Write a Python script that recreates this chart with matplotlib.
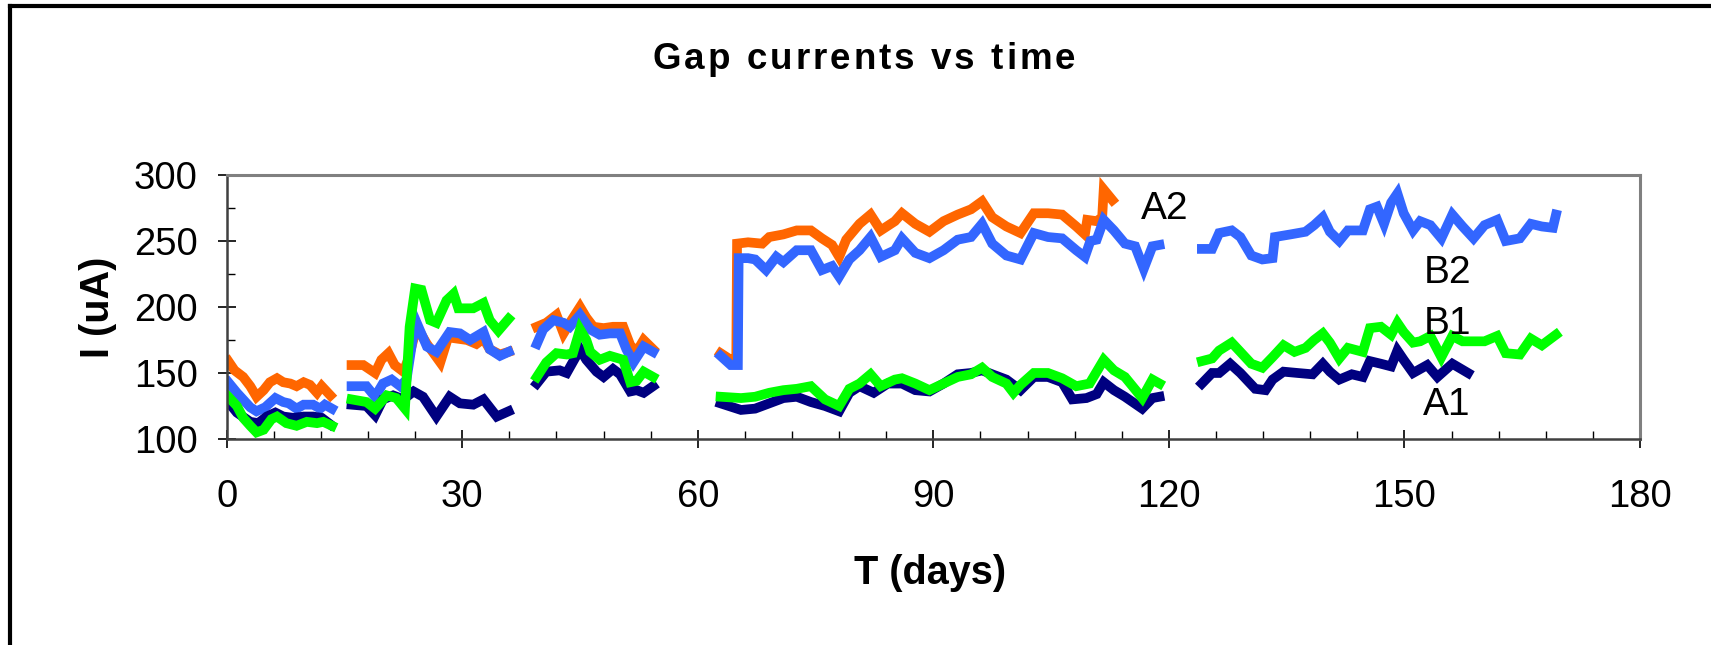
import numpy as np
import matplotlib
matplotlib.use("Agg")
import matplotlib.pyplot as plt
from matplotlib.lines import Line2D
from matplotlib.ticker import MultipleLocator
from matplotlib.font_manager import FontProperties

plt.rcParams['font.family'] = ['Liberation Sans', 'DejaVu Sans']

nan = np.nan

# A2 (orange)
a2_days = [0.2, 1.0, 2.1, 3.0, 3.8, 4.7, 5.5, 6.4, 7.2, 8.1, 8.9, 9.8, 10.6, 11.5, 12.1, 13.2, nan,
           15.9, 17.4, 18.9, 19.7, 20.6, 21.4, 22.5, 23.1, 24.2, 25.5, 27.2, 28.2, 30.6, 31.8, 32.7, 33.5, 34.8, 35.9, nan,
           39.5, 40.7, 42.0, 42.9, 43.7, 45.0, 45.8, 46.7, 48.0, 49.2, 50.5, 51.4, 52.2, 53.1, 54.3, nan,
           62.9, 64.2, 64.9, 65.0, 66.4, 68.2, 69.1, 70.9, 72.6, 74.4, 75.8, 77.1, 78.0, 78.9, 80.6, 82.0, 83.3,
           85.1, 86.0, 87.7, 89.5, 91.3, 93.1, 94.8, 96.2, 97.5, 99.3, 101.1, 102.8, 104.6, 106.4, 108.2, 109.3,
           109.6, 110.8, 111.5, 111.7, 112.8]
a2_vals = [159, 152, 147, 140, 132, 137, 143, 146, 143, 142, 140, 143, 141, 135, 140, 133, nan,
           156, 156, 150, 160, 165, 156, 151, 160, 185, 172, 158, 177, 175, 172, 176, 168, 164, 166, nan,
           185, 188, 194, 180, 188, 200, 192, 185, 184, 185, 185, 171, 166, 175, 168, nan,
           165, 160, 160, 248, 249, 248, 253, 255, 258, 258, 252, 247, 238, 251, 263, 270, 258,
           265, 271, 263, 257, 265, 270, 274, 280, 268, 261, 256, 271, 271, 270, 261, 255,
           266, 265, 268, 289, 281]

# B2 (blue)
b2_days = [0.2, 1.3, 3.0, 3.8, 4.9, 6.2, 7.2, 7.9, 8.9, 9.8, 11.0, 11.9, 12.5, 13.4, nan,
           15.9, 17.8, 18.9, 19.9, 21.0, 22.1, 22.9, 23.8, 24.2, 25.5, 26.7, 28.4, 29.7, 31.0, 32.7, 33.5, 34.8, 35.9, nan,
           39.5, 40.3, 41.6, 42.9, 43.7, 45.0, 46.3, 47.5, 48.8, 50.1, 50.9, 51.8, 53.1, 54.3, nan,
           62.9, 64.2, 65.1, 65.2, 66.4, 67.3, 68.7, 70.0, 70.9, 72.6, 74.4, 75.8, 77.1, 78.0, 79.3, 80.6, 82.0,
           83.3, 85.1, 86.0, 87.7, 89.5, 91.3, 93.1, 94.8, 96.2, 97.5, 99.3, 101.1, 102.8, 104.6, 106.4, 108.2,
           109.3, 110.0, 110.8, 111.7, 113.0, 114.4, 115.7, 116.8, 117.9, 118.8, nan,
           124.2, 125.5, 126.4, 128.0, 129.1, 130.5, 131.9, 133.2, 133.5, 135.5, 137.4, 138.5, 139.6, 140.5,
           141.7, 142.8, 144.7, 145.6, 146.5, 147.4, 148.3, 149.1, 149.9, 151.1, 152.0, 153.3, 154.7, 156.1,
           157.4, 158.8, 160.2, 161.8, 162.9, 164.7, 166.1, 167.5, 168.9, 169.3]
b2_vals = [143, 135, 124, 121, 124, 131, 128, 127, 123, 126, 126, 123, 126, 123, nan,
           140, 140, 132, 142, 145, 140, 145, 180, 188, 170, 166, 181, 180, 175, 181, 168, 163, 166, nan,
           172, 183, 190, 188, 185, 194, 183, 179, 180, 180, 168, 158, 170, 166, nan,
           163, 156, 156, 237, 237, 236, 228, 238, 234, 243, 243, 228, 231, 223, 236, 243, 253,
           238, 243, 252, 241, 237, 243, 251, 253, 263, 248, 239, 236, 256, 253, 252, 243,
           238, 250, 251, 266, 258, 248, 246, 229, 246, 247, nan,
           244, 244, 256, 258, 253, 239, 236, 237, 253, 255, 257, 262, 268, 257,
           250, 258, 258, 274, 276, 263, 279, 286, 271, 258, 265, 262, 252, 270,
           261, 252, 262, 266, 250, 252, 263, 261, 260, 270]

# A1 (navy)
a1_days = [0.2, 1.3, 3.0, 4.0, 5.1, 6.2, 7.2, 8.5, 9.8, 11.0, 12.1, 13.2, nan,
           15.9, 17.8, 18.9, 19.9, 21.2, 22.5, 23.8, 25.0, 26.7, 28.4, 29.7, 31.4, 32.7, 34.4, 35.9, nan,
           39.5, 40.7, 42.4, 43.3, 45.0, 45.8, 47.1, 48.0, 49.2, 50.1, 51.4, 52.2, 53.1, 54.3, nan,
           62.9, 65.5, 67.3, 69.1, 70.9, 72.6, 74.4, 76.2, 78.0, 79.3, 80.6, 82.4, 84.2, 86.0, 87.7, 89.5, 91.3,
           93.1, 94.8, 96.2, 97.5, 99.3, 101.1, 102.8, 104.6, 106.4, 107.7, 109.5, 110.8, 111.7, 113.0, 114.4,
           116.6, 117.9, 118.8, nan,
           124.2, 125.5, 126.4, 127.8, 129.1, 131.0, 132.3, 133.2, 134.6, 136.4, 138.3, 139.6, 140.5, 141.7,
           143.3, 144.7, 145.6, 147.0, 148.3, 149.1, 149.9, 151.1, 152.9, 154.2, 156.1, 158.1]
a1_vals = [128, 120, 113, 112, 117, 120, 117, 116, 117, 117, 116, 111, nan,
           126, 125, 118, 130, 133, 130, 136, 132, 117, 132, 127, 126, 130, 117, 121, nan,
           142, 151, 152, 150, 168, 160, 151, 147, 153, 149, 136, 137, 135, 140, nan,
           127, 122, 123, 127, 131, 132, 128, 125, 121, 135, 140, 135, 142, 142, 137, 136, 142,
           149, 150, 152, 149, 145, 137, 147, 147, 143, 130, 131, 134, 143, 137, 132,
           123, 131, 132, nan,
           142, 150, 150, 157, 150, 138, 137, 145, 151, 150, 149, 157, 151, 145,
           149, 147, 159, 157, 155, 167, 160, 150, 156, 147, 157, 150]

# B1 (green)
b1_days = [0.2, 1.3, 2.1, 3.0, 3.8, 4.7, 5.7, 6.4, 7.6, 8.9, 10.2, 11.5, 12.3, 13.4, nan,
           15.9, 17.8, 18.9, 20.4, 21.6, 22.7, 23.3, 24.0, 24.8, 25.9, 26.7, 28.0, 28.9, 29.5, 31.4, 32.7, 33.5, 34.6, 35.9, nan,
           39.5, 40.7, 42.0, 43.3, 44.1, 45.0, 45.8, 46.3, 47.5, 48.8, 50.5, 51.4, 52.2, 53.1, 54.3, nan,
           62.9, 65.5, 67.3, 69.1, 70.9, 72.6, 74.4, 76.2, 78.0, 79.3, 80.6, 82.0, 83.3, 85.1, 86.0, 87.7, 89.5,
           91.3, 93.1, 94.8, 96.2, 97.5, 99.3, 100.2, 101.1, 102.8, 104.6, 106.4, 108.2, 109.9, 111.7, 113.0,
           114.4, 116.6, 117.9, 118.8, nan,
           124.2, 125.5, 126.4, 128.0, 129.1, 130.5, 131.9, 133.2, 134.6, 136.0, 137.4, 138.5, 139.6, 140.5,
           141.7, 142.8, 144.7, 145.6, 147.0, 148.3, 149.1, 149.9, 151.1, 152.0, 153.3, 154.7, 156.1, 157.4,
           158.8, 160.2, 161.8, 162.9, 164.7, 166.1, 167.5, 169.3]
b1_vals = [132, 125, 116, 110, 105, 107, 115, 117, 112, 110, 113, 112, 113, 110, nan,
           130, 128, 123, 133, 131, 123, 185, 214, 213, 190, 188, 205, 210, 199, 199, 203, 190, 182, 191, nan,
           147, 158, 165, 164, 165, 183, 175, 166, 160, 163, 160, 143, 144, 151, 147, nan,
           132, 131, 132, 135, 137, 138, 140, 130, 125, 138, 142, 149, 140, 145, 146, 142, 137,
           142, 147, 149, 154, 147, 142, 135, 141, 150, 150, 146, 140, 142, 160, 152,
           147, 131, 145, 142, nan,
           159, 161, 167, 173, 166, 157, 154, 162, 171, 166, 169, 175, 180, 173,
           161, 169, 166, 184, 185, 179, 188, 181, 173, 174, 178, 162, 178, 174,
           174, 174, 178, 165, 164, 176, 171, 179]

series_names = ['A2', 'B2', 'A1', 'B1']
label_pos = {'A2': (116.4, 274), 'B2': (152.5, 226), 'B1': (152.5, 187), 'A1': (152.3, 125.5)}
title = 'Gap currents vs time'

fig = plt.figure(figsize=(17.11, 6.45), dpi=100)
ax = fig.add_axes([0.1325, 0.3194, 0.826, 0.4093])

lw = 7
ax.plot(a2_days, a2_vals, color='#FF6600', lw=lw, solid_joinstyle='miter')
ax.plot(b2_days, b2_vals, color='#3366FF', lw=lw, solid_joinstyle='miter')
ax.plot(a1_days, a1_vals, color='#000080', lw=lw, solid_joinstyle='miter')
ax.plot(b1_days, b1_vals, color='#00FF00', lw=lw, solid_joinstyle='miter')

for name in series_names:
    x, y = label_pos[name]
    ax.text(x, y, name, fontsize=28, ha='left', va='center')

ax.set_xlim(0, 180)
ax.set_ylim(100, 300)
ax.xaxis.set_major_locator(MultipleLocator(30))
ax.xaxis.set_minor_locator(MultipleLocator(6))
ax.yaxis.set_major_locator(MultipleLocator(50))
ax.yaxis.set_minor_locator(MultipleLocator(25))

ax.tick_params(which='major', direction='inout', length=13, width=1.2, labelsize=27.5)
ax.tick_params(which='minor', direction='in', length=6, width=1.0)
ax.tick_params(axis='x', which='major', pad=22.5)
ax.tick_params(axis='y', which='major', pad=14.5)

for side in ['top', 'right']:
    ax.spines[side].set_color('#808080')
    ax.spines[side].set_linewidth(2.2)
ax.spines['left'].set_color('#404040')
ax.spines['left'].set_linewidth(1.8)
ax.spines['bottom'].set_color('#404040')
ax.spines['bottom'].set_linewidth(1.8)

# title drawn letter by letter to get the wide letter spacing of the original
prop = FontProperties(family='Liberation Sans', weight='bold', size=26.5)
renderer = fig.canvas.get_renderer()
spacing = 3.0  # extra pixels between letters
widths = [renderer.get_text_width_height_descent(title[:i], prop, ismath=False)[0] if i else 0.0
          for i in range(len(title) + 1)]
total = widths[-1] + spacing * (len(title) - 1)
x0 = 864 - total / 2
for i, ch in enumerate(title):
    fig.text((x0 + widths[i] + spacing * i) / 1711, 0.893, ch, fontproperties=prop,
             ha='left', va='baseline')

fig.text(0.0573, 0.524, 'I (uA)', fontsize=28.5, fontweight='bold',
         rotation=90, ha='center', va='center')
fig.text(0.5435, 0.112, 'T (days)', fontsize=28.5, fontweight='bold',
         ha='center', va='center')

# outer chart border (left and top edges)
fig.add_artist(Line2D([10 / 1711, 10 / 1711], [0, 1 - 5.5 / 645], transform=fig.transFigure,
                      color='black', lw=3, solid_capstyle='projecting'))
fig.add_artist(Line2D([10 / 1711, 1], [1 - 5.5 / 645, 1 - 5.5 / 645], transform=fig.transFigure,
                      color='black', lw=3, solid_capstyle='projecting'))

fig.savefig('out.png', dpi=100)
